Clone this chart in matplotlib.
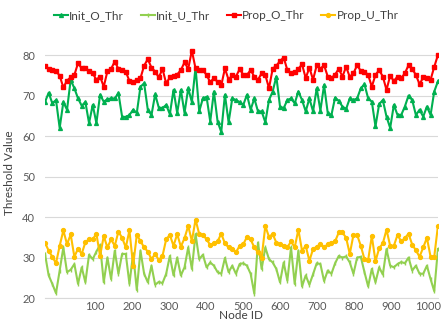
import numpy as np
import matplotlib.pyplot as plt

init_o_thr = [68.4, 70.7, 68.1, 68.9, 62.0, 68.4, 66.5, 73.9, 71.8, 69.3, 67.5, 68.4,
              63.2, 67.7, 63.2, 70.2, 68.5, 69.1, 69.3, 69.3, 70.6, 64.8, 64.7, 65.2,
              66.5, 65.7, 72.2, 73.0, 66.5, 65.2, 70.3, 67.0, 66.9, 67.7, 65.4, 71.4,
              65.7, 71.4, 65.7, 71.8, 68.4, 76.9, 66.1, 69.3, 69.7, 63.6, 71.0, 63.6,
              61.0, 70.2, 63.4, 69.3, 68.9, 68.4, 67.7, 70.2, 66.5, 69.3, 66.1, 66.1,
              63.4, 68.9, 71.0, 74.7, 67.3, 66.9, 68.9, 69.3, 68.1, 71.0, 68.9, 66.1,
              69.3, 66.1, 71.8, 66.3, 72.6, 65.7, 65.2, 69.5, 68.7, 67.3, 66.7, 69.3,
              68.9, 69.3, 71.8, 72.8, 69.3, 68.5, 62.4, 67.9, 68.9, 64.8, 62.0, 67.7,
              65.2, 65.2, 67.3, 70.0, 68.9, 65.2, 66.5, 64.8, 67.3, 65.2, 71.0, 73.5]

init_u_thr = [30.9, 25.6, 23.5, 21.2, 26.8, 32.5, 26.4, 27.0, 28.4, 23.5, 27.6, 23.9,
              30.7, 29.6, 31.5, 33.1, 23.9, 30.0, 24.7, 31.7, 26.0, 30.9, 30.9, 23.5,
              31.0, 22.0, 31.7, 26.0, 23.9, 28.0, 23.3, 24.0, 23.7, 26.0, 30.4, 25.6,
              30.0, 25.6, 27.6, 32.5, 27.2, 35.8, 29.6, 30.7, 27.6, 28.8, 28.0, 26.4,
              26.0, 29.9, 26.4, 28.0, 26.0, 28.4, 28.6, 28.0, 26.0, 21.1, 33.7, 27.2,
              32.5, 29.6, 28.8, 27.2, 23.9, 28.8, 24.3, 32.5, 23.5, 31.7, 22.9, 25.6,
              23.3, 25.9, 28.6, 28.4, 24.2, 26.8, 26.0, 28.6, 30.4, 30.0, 30.3, 28.8,
              26.0, 30.0, 30.2, 26.4, 22.9, 27.2, 23.9, 27.6, 25.8, 32.1, 28.0, 27.6,
              28.4, 28.9, 28.6, 30.0, 26.8, 28.0, 26.0, 26.0, 28.0, 24.7, 21.7, 32.1]

prop_o_thr = [77.3, 76.6, 76.4, 76.1, 74.9, 72.0, 73.7, 74.5, 75.1, 78.0, 76.7, 76.7,
              76.1, 75.5, 73.9, 74.7, 72.2, 76.0, 76.6, 78.4, 76.6, 76.3, 75.9, 73.6,
              73.3, 73.9, 74.3, 77.4, 79.0, 76.9, 75.9, 74.5, 76.6, 73.0, 74.5, 74.8,
              75.2, 76.3, 78.2, 76.6, 81.1, 76.7, 76.3, 76.3, 75.1, 73.3, 74.3, 73.4,
              72.5, 76.7, 73.9, 75.1, 74.7, 76.5, 75.2, 75.1, 76.3, 74.7, 73.9, 75.5,
              75.1, 71.8, 76.6, 77.4, 78.5, 79.4, 76.3, 75.5, 75.7, 76.6, 77.7, 74.3,
              76.9, 73.9, 77.5, 76.6, 77.5, 74.7, 74.3, 75.2, 76.6, 74.7, 77.1, 74.6,
              75.5, 77.5, 76.1, 75.9, 75.1, 72.2, 75.1, 76.3, 74.7, 71.4, 74.9, 73.6,
              74.7, 74.3, 75.5, 77.5, 76.6, 75.1, 72.8, 74.5, 74.3, 73.9, 77.1, 80.0]

prop_u_thr = [33.7, 31.7, 30.2, 28.6, 32.9, 36.7, 33.3, 35.7, 30.2, 32.2, 30.9, 33.8,
              34.5, 34.5, 35.9, 30.4, 35.3, 32.5, 34.5, 32.9, 36.4, 34.9, 32.5, 36.7,
              28.0, 35.6, 34.1, 32.5, 31.5, 29.6, 30.9, 29.4, 30.4, 34.5, 35.6, 32.9,
              35.8, 32.7, 34.8, 37.8, 34.1, 39.4, 35.8, 35.6, 34.5, 33.1, 33.5, 34.0,
              35.9, 33.5, 32.5, 32.1, 31.3, 32.9, 33.3, 35.1, 34.5, 32.5, 31.3, 30.0,
              37.8, 35.1, 35.8, 33.7, 33.3, 32.9, 32.5, 34.0, 32.5, 36.9, 31.7, 32.9,
              29.2, 32.1, 32.7, 33.3, 32.5, 33.3, 33.7, 34.0, 36.2, 36.2, 34.9, 30.9,
              35.6, 35.6, 32.9, 29.6, 29.4, 35.3, 29.1, 32.3, 33.5, 36.9, 32.9, 32.9,
              35.6, 34.0, 34.8, 35.9, 33.2, 31.8, 30.2, 32.5, 34.9, 30.2, 30.2, 37.8]

x_ticks = [100, 200, 300, 400, 500, 600, 700, 800, 900, 1000]
y_ticks = [20, 30, 40, 50, 60, 70, 80]

# sampled node ids (evenly spaced along the axis)
node_ids = np.linspace(-35, 1027, len(init_o_thr))

plt.rcParams['font.family'] = ['Lato', 'DejaVu Sans']

fig = plt.figure(figsize=(4.41, 3.24), dpi=100)
ax = fig.add_axes([0.102, 0.08, 0.891, 0.775])

series = [
    ("Init_O_Thr", init_o_thr, "#00B050", "^", 2.8),
    ("Init_U_Thr", init_u_thr, "#92D050", "|", 3.0),
    ("Prop_O_Thr", prop_o_thr, "#FF0000", "s", 2.6),
    ("Prop_U_Thr", prop_u_thr, "#FFC000", "o", 2.8),
]
for name, vals, col, mk, ms in series:
    ax.plot(node_ids, vals, color=col, lw=1.5, marker=mk, ms=ms,
            mec=col, mfc=col, label=name, zorder=3)

ax.set_xlim(-35, 1027)
ax.set_ylim(20, 82)
ax.set_xticks(x_ticks)
ax.set_yticks(y_ticks)
ax.grid(axis='y', color='#d9d9d9', lw=0.8, zorder=0)
for s in ['top', 'right', 'left']:
    ax.spines[s].set_visible(False)
ax.spines['bottom'].set_color('#d9d9d9')
ax.tick_params(length=0, labelsize=8, colors='#595959')
ax.tick_params(axis='y', pad=7)
ax.tick_params(axis='x', pad=2)

ax.set_xlabel("Node ID", fontsize=8.5, color='#404040', labelpad=-1)
ax.set_ylabel("Threshold Value", fontsize=8.5, color='#404040', labelpad=5)

fig.legend(loc='center', bbox_to_anchor=(0.513, 0.953), ncol=4, frameon=False,
           fontsize=8.5, handlelength=1.2, handletextpad=0.1, columnspacing=1.4,
           labelcolor='#404040')

fig.savefig("out.png", dpi=100)
